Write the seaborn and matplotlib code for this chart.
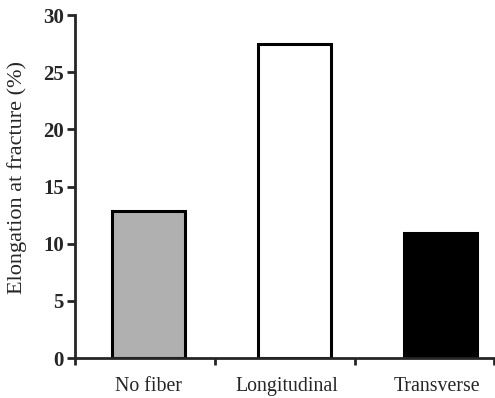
import matplotlib
matplotlib.use("Agg")
import matplotlib.pyplot as plt
import seaborn as sns
import pandas as pd

# datos
categorias = ["No fiber", "Longitudinal", "Transverse"]
elongacion = [12.85, 27.5, 10.95]
colores = ["#b0b0b0", "#ffffff", "#000000"]

sns.set_style("ticks")
plt.rcParams["font.family"] = ["Liberation Serif", "DejaVu Serif"]

df = pd.DataFrame({"grupo": categorias, "valor": elongacion})

fig = plt.figure(figsize=(4.95, 3.98), dpi=100)
ax = fig.add_axes([0.1515, 0.1005, 0.847, 0.8615])

sns.barplot(data=df, x="grupo", y="valor", hue="grupo", palette=colores,
            width=0.5, edgecolor="black", linewidth=2.2, legend=False,
            saturation=1, ax=ax)

ax.set_xlim(-0.5, 2.37)
ax.set_ylim(0, 30)
ax.set_yticks(range(0, 31, 5))

# ticks del eje x entre grupos, etiquetas bajo las barras
ax.set_xticks([-0.5, 0.46, 1.42, 2.37])
ax.set_xticklabels([])
ax.set_xticks([0, 0.95, 1.98], minor=True)
ax.set_xticklabels(categorias, minor=True, fontsize=14.3)
ax.tick_params(axis="x", which="minor", length=0, pad=14)
ax.tick_params(axis="x", which="major", length=5, width=2, direction="out")
ax.tick_params(axis="y", length=6, width=2, labelsize=15, pad=2)
for t in ax.get_yticklabels():
    t.set_fontweight("bold")

ax.set_xlabel("")
ax.set_ylabel("Elongation at fracture (%)", fontsize=16)
ax.yaxis.set_label_coords(-0.115, 0.525)

sns.despine(ax=ax)
for lado in ["left", "bottom"]:
    ax.spines[lado].set_linewidth(2)

fig.savefig("out.png", dpi=100)
